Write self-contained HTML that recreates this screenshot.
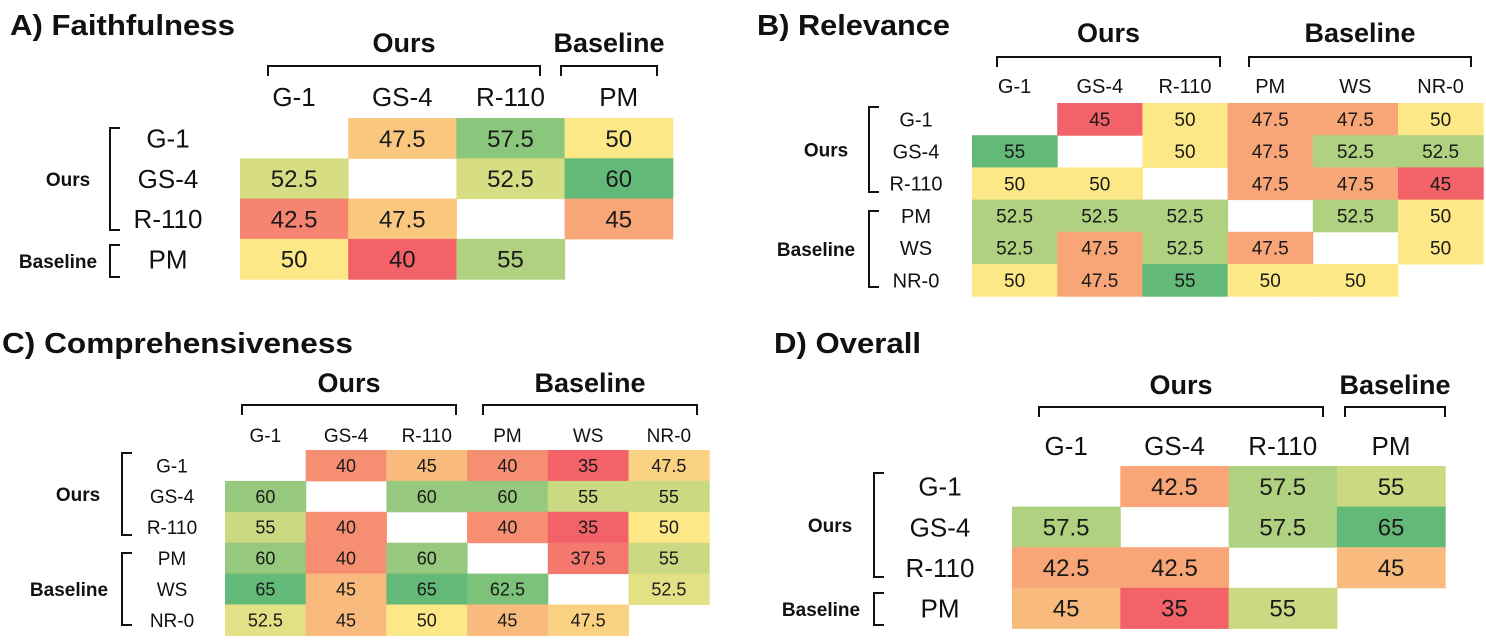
<!DOCTYPE html>
<html><head><meta charset="utf-8"><style>
html,body{margin:0;padding:0;background:#fff;}
svg{display:block;font-family:"Liberation Sans",sans-serif;}
</style></head><body>
<svg id="chart" width="1486" height="643" viewBox="0 0 1486 643"></svg>
<script>
// ---- data ----
const labelsA = ["G-1","GS-4","R-110","PM"];
const valuesA = [
  [null,47.5,57.5,50],
  [52.5,null,52.5,60],
  [42.5,47.5,null,45],
  [50,40,55,null]];
const labelsB = ["G-1","GS-4","R-110","PM","WS","NR-0"];
const valuesB = [
  [null,45,50,47.5,47.5,50],
  [55,null,50,47.5,52.5,52.5],
  [50,50,null,47.5,47.5,45],
  [52.5,52.5,52.5,null,52.5,50],
  [52.5,47.5,52.5,47.5,null,50],
  [50,47.5,55,50,50,null]];
const labelsC = ["G-1","GS-4","R-110","PM","WS","NR-0"];
const valuesC = [
  [null,40,45,40,35,47.5],
  [60,null,60,60,55,55],
  [55,40,null,40,35,50],
  [60,40,60,null,37.5,55],
  [65,45,65,62.5,null,52.5],
  [52.5,45,50,45,47.5,null]];
const labelsD = ["G-1","GS-4","R-110","PM"];
const valuesD = [
  [null,42.5,57.5,55],
  [57.5,null,57.5,65],
  [42.5,42.5,null,45],
  [45,35,55,null]];

// ---- layout ----
const panels = [
 {key:"a",title:"A) Faithfulness",tx:10,ty:35,tw:225,labels:labelsA,values:valuesA,min:40,max:60,
  x0:240,cw:108.2,y0:118,rh:40.3,fs:24,lfs:26,colY:106,rowX:168,brX:110,
  headY:52,hfs:27,headers:[{t:"Ours",a:0,b:2,x1:268,x2:540},{t:"Baseline",a:3,b:3,x1:561,x2:657}],brY:66,
  groups:[{t:"Ours",r0:0,r1:2,y1:128,y2:230,lx:68},{t:"Baseline",r0:3,r1:3,y1:245,y2:277,lx:58}],gfs:19},
 {key:"b",title:"B) Relevance",tx:757,ty:35,tw:193,labels:labelsB,values:valuesB,min:45,max:55,
  x0:972,cw:85.2,y0:103,rh:32.2,fs:19,lfs:20,colY:93,rowX:916,brX:869,
  headY:42,hfs:27,headers:[{t:"Ours",a:0,b:2,x1:997,x2:1220},{t:"Baseline",a:3,b:5,x1:1249,x2:1471}],brY:57,
  groups:[{t:"Ours",r0:0,r1:2,y1:107,y2:192,lx:826},{t:"Baseline",r0:3,r1:5,y1:211,y2:287,lx:816}],gfs:19},
 {key:"c",title:"C) Comprehensiveness",tx:2,ty:353,tw:351,labels:labelsC,values:valuesC,min:35,max:65,
  x0:225,cw:80.7,y0:450,rh:30.9,fs:18,lfs:19,colY:442,rowX:172,brX:122,
  headY:392,hfs:27,headers:[{t:"Ours",a:0,b:2,x1:242,x2:456},{t:"Baseline",a:3,b:5,x1:483,x2:697}],brY:405,
  groups:[{t:"Ours",r0:0,r1:2,y1:453,y2:535,lx:78},{t:"Baseline",r0:3,r1:5,y1:553,y2:625,lx:69}],gfs:19},
 {key:"d",title:"D) Overall",tx:774,ty:353,tw:147,labels:labelsD,values:valuesD,min:35,max:65,
  x0:1012,cw:108.3,y0:466,rh:40.6,fs:24,lfs:26,colY:455,rowX:940,brX:874,
  headY:394,hfs:27,headers:[{t:"Ours",a:0,b:2,x1:1039,x2:1323},{t:"Baseline",a:3,b:3,x1:1345,x2:1445}],brY:407,
  groups:[{t:"Ours",r0:0,r1:2,y1:473,y2:577,lx:830},{t:"Baseline",r0:3,r1:3,y1:593,y2:625,lx:821}],gfs:19}
];

const NS="http://www.w3.org/2000/svg";
const svg=document.getElementById('chart');
function mk(tag,attrs,parent){const e=document.createElementNS(NS,tag);for(const k in attrs)e.setAttribute(k,attrs[k]);(parent||svg).appendChild(e);return e;}
function lerp(a,b,t){return a.map((v,i)=>Math.round(v+(b[i]-v)*t));}
const RED=[242,98,104],YEL=[253,232,135],GRN=[99,186,120];
function colorFor(v,min,max){const mid=(min+max)/2;let c;
  if(v<=mid)c=lerp(RED,YEL,Math.max(0,(v-min)/(mid-min)));else c=lerp(YEL,GRN,Math.min(1,(v-mid)/(max-mid)));
  return `rgb(${c[0]},${c[1]},${c[2]})`;}

panels.forEach(p=>{
  const g=mk('g',{});
  
  
  const t=mk('text',{x:p.tx,y:p.ty,'font-size':29,'font-weight':'bold',fill:'#111',textLength:p.tw,lengthAdjust:'spacingAndGlyphs'},g);
  t.textContent=p.title;
  
  
  const xs=i=>p.x0+i*p.cw, ys=j=>p.y0+j*p.rh;
  p.values.forEach((row,j)=>row.forEach((v,i)=>{
    if(v===null)return;
    const r=mk('rect',{x:xs(i),y:ys(j),width:p.cw+0.5,height:p.rh+0.5,fill:colorFor(v,p.min,p.max)},g);
    
    
    const tx=mk('text',{x:xs(i)+p.cw/2,y:ys(j)+p.rh/2+p.fs*0.36,'font-size':p.fs,'text-anchor':'middle',fill:'#1a1a1a'},g);
    tx.textContent=String(v);
    
    
  }));
  p.labels.forEach((l,i)=>{
    const c=mk('text',{x:xs(i)+p.cw/2,y:p.colY,'font-size':p.lfs,'text-anchor':'middle',fill:'#111'},g);
    c.textContent=l;
    
    
    const r=mk('text',{x:p.rowX,y:ys(i)+p.rh/2+p.lfs*0.36,'font-size':p.lfs,'text-anchor':'middle',fill:'#111'},g);
    r.textContent=l;
    
    
  });
  p.headers.forEach(h=>{
    const ht=mk('text',{x:(h.x1+h.x2)/2,y:p.headY,'font-size':p.hfs,'font-weight':'bold','text-anchor':'middle',fill:'#111'},g);
    ht.textContent=h.t;
    
    
    const br=mk('path',{d:`M${h.x1} ${p.brY+10}V${p.brY}H${h.x2}V${p.brY+10}`,fill:'none',stroke:'#111','stroke-width':2},g);
    
    
  });
  p.groups.forEach(gr=>{
    const br=mk('path',{d:`M${p.brX+10} ${gr.y1}H${p.brX}V${gr.y2}H${p.brX+10}`,fill:'none',stroke:'#111','stroke-width':2},g);
    
    
    const lt=mk('text',{x:gr.lx,y:(gr.y1+gr.y2)/2+7,'font-size':p.gfs,'font-weight':'bold','text-anchor':'middle',fill:'#111'},g);
    lt.textContent=gr.t;
    
    
  });
});
</script>
</body></html>
